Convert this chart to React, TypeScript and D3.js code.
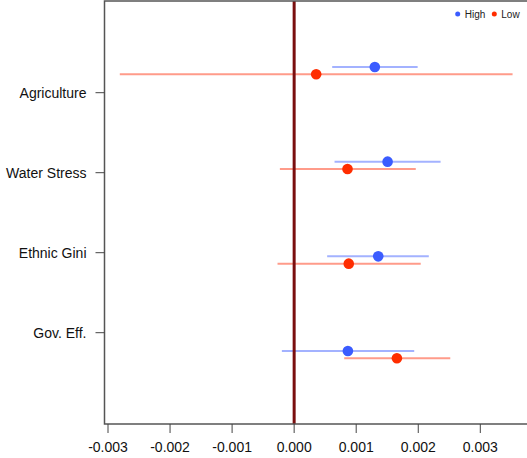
import React from "react";
import * as d3 from "d3";

const categories = ["Agriculture", "Water Stress", "Ethnic Gini", "Gov. Eff."];
const groups = ["High", "Low"];
const highEst = [0.0013, 0.001506, 0.001355, 0.000866];
const highLo = [0.000613, 0.000651, 0.000532, -0.000198];
const highHi = [0.00199, 0.00236, 0.00217, 0.001935];
const lowEst = [0.000355, 0.00086, 0.00088, 0.001656];
const lowLo = [-0.00281, -0.00023, -0.000268, 0.000807];
const lowHi = [0.00352, 0.00196, 0.00204, 0.002516];
const xTicks = [-0.003, -0.002, -0.001, 0, 0.001, 0.002, 0.003];

const W = 527;
const H = 458;
const FONT = "'Liberation Sans', Arial, Helvetica, sans-serif";
const colors: Record<string, string> = { High: "#3b5cff", Low: "#ff2d00" };
const ciColors: Record<string, string> = { High: "#a3b2ff", Low: "#ff9b8a" };

export default function App() {
  const left = 104.5;
  const top = 1;
  const bottom = 424;
  const right = 532;
  const x = d3.scaleLinear().domain([-0.003, 0.003]).range([108, 480.3]);
  const yLabel = d3.scalePoint<string>().domain(categories).range([92.7, 332.7]);
  const yPoint = d3.scalePoint<string>().domain(categories).range([67, 351]);
  const lowOffset = 7.3;

  const series = [
    { g: "High", est: highEst, lo: highLo, hi: highHi, dy: 0 },
    { g: "Low", est: lowEst, lo: lowLo, hi: lowHi, dy: lowOffset },
  ];

  const fmt = d3.format(".3f");

  return (
    <div style={{ position: "absolute", left: 0, top: 0 }}>
      <svg width={W} height={H} style={{ display: "block", background: "#fff" }}>
        {series.map((s) =>
          categories.map((c, i) => (
            <line
              key={s.g + c}
              x1={x(s.lo[i])}
              x2={x(s.hi[i])}
              y1={(yPoint(c) as number) + s.dy}
              y2={(yPoint(c) as number) + s.dy}
              stroke={ciColors[s.g]}
              strokeWidth={2}
            />
          ))
        )}
        <line x1={x(0)} x2={x(0)} y1={top} y2={bottom} stroke="#7a0f0f" strokeWidth={3} />
        {series.map((s) =>
          categories.map((c, i) => (
            <circle
              key={"p" + s.g + c}
              cx={x(s.est[i])}
              cy={(yPoint(c) as number) + s.dy}
              r={5.3}
              fill={colors[s.g]}
            />
          ))
        )}
        <path
          d={`M${right},${top}H${left}V${bottom}H${right}`}
          fill="none"
          stroke="#555"
          strokeWidth={1.5}
        />
        {xTicks.map((t) => (
          <g key={t} transform={`translate(${x(t)},0)`}>
            <line y1={bottom} y2={bottom + 9} stroke="#444" strokeWidth={1} />
            <text
              y={bottom + 28}
              textAnchor="middle"
              fontFamily={FONT}
              fontSize={14}
              fill="#111"
            >
              {fmt(t).replace("\u2212", "-")}
            </text>
          </g>
        ))}
        {categories.map((c) => (
          <g key={c} transform={`translate(0,${yLabel(c)})`}>
            <line x1={left - 9} x2={left} stroke="#444" strokeWidth={1} />
            <text
              x={left - 18}
              dy="0.35em"
              textAnchor="end"
              fontFamily={FONT}
              fontSize={14}
              fill="#111"
            >
              {c}
            </text>
          </g>
        ))}
        {groups.map((g, i) => {
          const lx = i === 0 ? 457.7 : 494.3;
          return (
            <g key={g}>
              <circle cx={lx} cy={14} r={2.5} fill={colors[g]} />
              <text x={lx + 7} y={14} dy="0.35em" fontFamily={FONT} fontSize={10} fill="#222">
                {g}
              </text>
            </g>
          );
        })}
      </svg>
    </div>
  );
}
